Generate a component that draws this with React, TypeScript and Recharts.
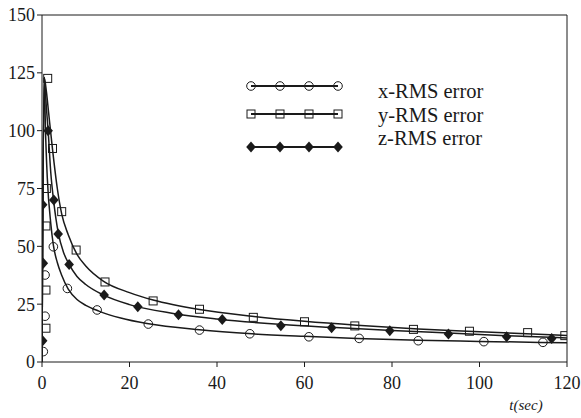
import React from 'react'
import {
  ComposedChart,
  Line,
  Scatter,
  XAxis,
  YAxis,
  ReferenceLine,
} from 'recharts'

// fitted curves (t in sec, RMS error)
const xFit = [
  { t: 0, v: 0 }, { t: 0.5, v: 123 }, { t: 0.8, v: 100 }, { t: 1.2, v: 80 },
  { t: 2, v: 60 }, { t: 2.6, v: 50.5 }, { t: 3.5, v: 43 }, { t: 4.5, v: 37.5 },
  { t: 6, v: 31.5 }, { t: 8, v: 27 }, { t: 10, v: 24.5 }, { t: 13, v: 22 },
  { t: 18, v: 19 }, { t: 24, v: 16.6 }, { t: 36, v: 13.9 }, { t: 48, v: 12.2 },
  { t: 60, v: 11.1 }, { t: 72, v: 10.2 }, { t: 86, v: 9.4 }, { t: 100, v: 8.9 },
  { t: 120, v: 8.3 },
]
const yFit = [
  { t: 0, v: 0 }, { t: 0.5, v: 123 }, { t: 1, v: 117 }, { t: 1.5, v: 108 },
  { t: 2.4, v: 92 }, { t: 3.5, v: 75 }, { t: 4.5, v: 64 }, { t: 6, v: 55 },
  { t: 8, v: 46.5 }, { t: 10, v: 41.5 }, { t: 14, v: 35 }, { t: 20, v: 30 },
  { t: 25.4, v: 26.8 }, { t: 36, v: 22.7 }, { t: 48, v: 19.8 }, { t: 60, v: 17.6 },
  { t: 72, v: 15.9 }, { t: 86, v: 14.3 }, { t: 100, v: 13.1 }, { t: 120, v: 11.5 },
]
const zFit = [
  { t: 0, v: 0 }, { t: 0.5, v: 123 }, { t: 1, v: 110 }, { t: 1.4, v: 100 },
  { t: 2, v: 82 }, { t: 2.7, v: 69 }, { t: 3.7, v: 56 }, { t: 5, v: 47 },
  { t: 6.2, v: 42.2 }, { t: 8, v: 37 }, { t: 10, v: 33.5 }, { t: 14, v: 29 },
  { t: 20, v: 24.8 }, { t: 30, v: 21 }, { t: 40, v: 18.6 }, { t: 55, v: 16.2 },
  { t: 66, v: 15 }, { t: 80, v: 13.6 }, { t: 93, v: 12.5 }, { t: 106, v: 11.4 },
  { t: 120, v: 10.4 },
]

// measured points
const xPoints = [
  { t: 0.3, v: 4.5 }, { t: 0.7, v: 19.8 }, { t: 0.7, v: 37.6 }, { t: 2.6, v: 49.8 },
  { t: 5.8, v: 31.8 }, { t: 12.6, v: 22.5 }, { t: 24.3, v: 16.4 }, { t: 36, v: 13.8 },
  { t: 47.5, v: 12.2 }, { t: 61, v: 10.9 }, { t: 72.5, v: 10.2 }, { t: 86, v: 9.2 },
  { t: 101, v: 8.8 }, { t: 114.5, v: 8.5 },
]
const yPoints = [
  { t: 0.9, v: 14.6 }, { t: 0.9, v: 31.1 }, { t: 0.9, v: 58.8 }, { t: 1, v: 75 },
  { t: 1.3, v: 122.6 }, { t: 2.4, v: 92.3 }, { t: 4.5, v: 65 }, { t: 7.8, v: 48.4 },
  { t: 14.4, v: 34.6 }, { t: 25.4, v: 26.4 }, { t: 36, v: 22.8 }, { t: 48.3, v: 19.3 },
  { t: 60, v: 17.4 }, { t: 71.5, v: 15.6 }, { t: 84.9, v: 14.1 }, { t: 97.7, v: 13.3 },
  { t: 111, v: 12.7 }, { t: 119.5, v: 11.4 },
]
const zPoints = [
  { t: 0.15, v: 9.2 }, { t: 0.3, v: 42.7 }, { t: 0.15, v: 68 }, { t: 1.4, v: 100 },
  { t: 2.7, v: 70 }, { t: 3.7, v: 55.3 }, { t: 6.2, v: 42.2 }, { t: 14.2, v: 29 },
  { t: 21.9, v: 23.9 }, { t: 31.2, v: 20.4 }, { t: 41.2, v: 18.4 }, { t: 54.6, v: 15.7 },
  { t: 66.2, v: 14.8 }, { t: 79.5, v: 13.5 }, { t: 92.9, v: 12.1 }, { t: 106.2, v: 10.9 },
  { t: 116.5, v: 10.2 },
]

const xTicks = [0, 20, 40, 60, 80, 100, 120]
const yTicks = [0, 25, 50, 75, 100, 125, 150]
const seriesNames = ['x-RMS error', 'y-RMS error', 'z-RMS error']

const INK = '#1a1a1a'
const FONT = '"Liberation Serif", "Times New Roman", serif'

const OpenCircle = (p: any) => (
  <circle cx={p.cx} cy={p.cy} r={4.3} fill="none" stroke={INK} strokeWidth={1} />
)
const OpenSquare = (p: any) => (
  <rect x={p.cx - 4} y={p.cy - 4} width={8} height={8} fill="none" stroke={INK} strokeWidth={1} />
)
const Diamond = (p: any) => (
  <polygon
    points={`${p.cx},${p.cy - 5.5} ${p.cx + 4.8},${p.cy} ${p.cx},${p.cy + 5.5} ${p.cx - 4.8},${p.cy}`}
    fill={INK}
  />
)

function LegendOverlay() {
  const rows = [
    { y: 86, Mark: OpenCircle, textY: 98 },
    { y: 114, Mark: OpenSquare, textY: 121.5 },
    { y: 147, Mark: Diamond, textY: 145 },
  ]
  const xs = [251, 280, 309, 338]
  return (
    <svg width={581} height={418} style={{ position: 'absolute', left: 0, top: 0, pointerEvents: 'none' }}>
      {rows.map((r, i) => (
        <g key={i}>
          <line x1={251} x2={338} y1={r.y} y2={r.y} stroke={INK} strokeWidth={1.8} />
          {xs.map((x) => (
            <r.Mark key={x} cx={x} cy={r.y} />
          ))}
          <text x={378} y={r.textY} fontFamily={FONT} fontSize={20.5} fill={INK}>
            {seriesNames[i]}
          </text>
        </g>
      ))}
      <text x={526} y={410} textAnchor="middle" fontFamily={FONT} fontSize={15} fontStyle="italic" fill={INK}>
        t(sec)
      </text>
    </svg>
  )
}

export default function App() {
  return (
    <div style={{ position: 'absolute', left: 0, top: 0, width: 581, height: 418, background: '#fff' }}>
      <ComposedChart width={581} height={418} margin={{ top: 15, right: 14, bottom: 0, left: 0 }}>
        <XAxis
          dataKey="t"
          type="number"
          domain={[0, 120]}
          ticks={xTicks}
          allowDataOverflow
          height={56}
          tickSize={5}
          tickMargin={9}
          stroke={INK}
          tick={{ fontSize: 18, fontFamily: FONT, fill: INK }}
        />
        <YAxis
          dataKey="v"
          type="number"
          domain={[0, 150]}
          ticks={yTicks}
          allowDataOverflow
          width={42}
          tickSize={5}
          stroke={INK}
          tick={{ fontSize: 18, fontFamily: FONT, fill: INK }}
        />
        <ReferenceLine y={150} stroke={INK} />
        <ReferenceLine x={120} stroke={INK} />
        <Line data={xFit} dataKey="v" type="monotone" stroke={INK} strokeWidth={1.5} dot={false} isAnimationActive={false} />
        <Line data={yFit} dataKey="v" type="monotone" stroke={INK} strokeWidth={1.5} dot={false} isAnimationActive={false} />
        <Line data={zFit} dataKey="v" type="monotone" stroke={INK} strokeWidth={1.5} dot={false} isAnimationActive={false} />
        <Scatter data={xPoints} dataKey="v" shape={OpenCircle} isAnimationActive={false} />
        <Scatter data={yPoints} dataKey="v" shape={OpenSquare} isAnimationActive={false} />
        <Scatter data={zPoints} dataKey="v" shape={Diamond} isAnimationActive={false} />
      </ComposedChart>
      <LegendOverlay />
    </div>
  )
}
